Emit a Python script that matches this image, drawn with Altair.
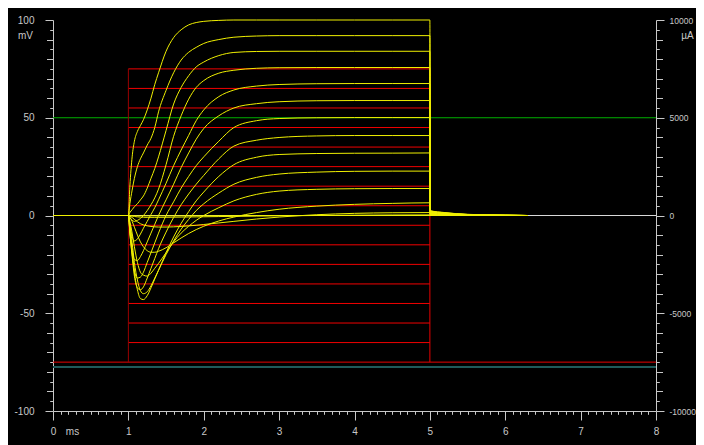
import altair as alt
import pandas as pd

# ---- time base of the current traces (ms) ----
TIMES = [0, 1.0, 1.02, 1.05, 1.08, 1.12, 1.16, 1.2, 1.25, 1.3, 1.35, 1.4, 1.5, 1.6,
         1.7, 1.8, 1.9, 2.0, 2.2, 2.4, 2.7, 3.0, 3.5, 4.0, 4.5, 5.0]
TAIL_TIMES = [5.005, 5.2, 5.5, 6.0, 6.3]

# ---- voltage protocol (mV) ----
STEP_LEVELS = [75, 65, 55, 45, 35, 25, 15, 5, -5, -15, -25, -35, -45, -55, -65]
STEP_START = 1.0
STEP_END = 5.0
HOLDING = -75
E_NA = 50
E_K = -77.5

# ---- membrane currents (uA), one list per step level ----
I_P75 = [0, 0, 1500, 3000, 3800, 4300, 4600, 4900, 5400, 6000, 6700, 7300, 8400, 9100,
         9500, 9750, 9870, 9930, 9980, 10000, 10000, 10000, 10000, 10000, 10000, 10000]
I_P65 = [0, 0, 600, 1300, 1900, 2500, 2900, 3200, 3600, 3950, 4500, 5300, 6400, 7300,
         7950, 8350, 8600, 8800, 9000, 9120, 9180, 9200, 9200, 9200, 9200, 9200]
I_P55 = [0, 0, 150, 300, 450, 600, 800, 1000, 1400, 1900, 2400, 3000, 4350, 5700,
         6550, 7150, 7600, 7850, 8180, 8340, 8390, 8400, 8400, 8400, 8400, 8400]
I_P45 = [0, 0, -100, -250, -300, -250, -150, 0, 250, 550, 900, 1350, 2600, 4050,
         5100, 5950, 6550, 6900, 7280, 7430, 7530, 7560, 7570, 7570, 7570, 7570]
I_P35 = [0, 0, -500, -1100, -1300, -1200, -950, -650, -300, 50, 400, 800, 1650, 2550,
         3350, 4100, 4850, 5400, 6080, 6420, 6620, 6700, 6740, 6750, 6750, 6750]
I_P25 = [0, 0, -800, -1700, -2250, -2300, -2100, -1800, -1350, -900, -450, 0, 800, 1600,
         2450, 3200, 3900, 4450, 5100, 5500, 5720, 5820, 5870, 5880, 5880, 5880]
I_P15 = [0, 0, -900, -2000, -2800, -3200, -3150, -2900, -2400, -1900, -1400, -900, 0, 700,
         1400, 2000, 2550, 3000, 3800, 4500, 4850, 4960, 5000, 5010, 5010, 5010]
I_P5 = [0, 0, -900, -2100, -3100, -3700, -3800, -3650, -3200, -2700, -2200, -1700, -850, -100,
        550, 1100, 1600, 2050, 2900, 3550, 3850, 3990, 4070, 4090, 4090, 4090]
I_M5 = [0, 0, -700, -1800, -2900, -3800, -4250, -4300, -4100, -3700, -3250, -2800, -1900, -1100,
        -400, 200, 750, 1200, 2000, 2600, 2980, 3120, 3170, 3185, 3190, 3200]
I_M15 = [0, 0, -500, -1400, -2400, -3300, -3850, -4000, -3900, -3600, -3200, -2800, -2000, -1300,
         -700, -200, 250, 600, 1150, 1600, 1950, 2120, 2220, 2260, 2270, 2270]
I_M25 = [0, 0, -300, -900, -1600, -2400, -2900, -3050, -3100, -2950, -2700, -2450, -1900, -1350,
         -900, -550, -250, 0, 400, 750, 1080, 1250, 1340, 1370, 1380, 1380]
I_M35 = [0, 0, -100, -300, -600, -1000, -1350, -1600, -1800, -1880, -1880, -1830, -1650, -1400,
         -1150, -920, -720, -550, -280, -80, 150, 320, 480, 570, 620, 650]
I_M45 = [0, 0, -30, -100, -200, -320, -420, -480, -530, -560, -580, -590, -590, -580,
         -560, -530, -500, -460, -380, -300, -180, -80, 40, 110, 140, 150]
I_M55 = [0, 0, -10, -30, -50, -70, -80, -90, -95, -95, -95, -95, -90, -85,
         -80, -75, -70, -65, -55, -45, -30, -15, 0, 15, 25, 30]
I_M65 = [0, 0, 0, -5, -10, -15, -15, -15, -15, -15, -15, -15, -15, -15,
         -12, -10, -10, -10, -8, -6, -4, -2, 0, 2, 3, 4]

# tail currents after repolarisation (uA)
T_P75 = [250, 150, 60, 15, 0]
T_P65 = [230, 140, 55, 15, 0]
T_P55 = [210, 125, 50, 12, 0]
T_P45 = [190, 115, 45, 10, 0]
T_P35 = [170, 100, 40, 10, 0]
T_P25 = [150, 90, 35, 8, 0]
T_P15 = [125, 75, 30, 7, 0]
T_P5 = [100, 60, 25, 6, 0]
T_M5 = [80, 48, 20, 5, 0]
T_M15 = [55, 33, 14, 4, 0]
T_M25 = [35, 20, 8, 2, 0]
T_M35 = [15, 9, 4, 1, 0]
T_M45 = [5, 3, 1, 0, 0]
T_M55 = [0, 0, 0, 0, 0]
T_M65 = [0, 0, 0, 0, 0]

BODIES = [I_P75, I_P65, I_P55, I_P45, I_P35, I_P25, I_P15, I_P5,
          I_M5, I_M15, I_M25, I_M35, I_M45, I_M55, I_M65]
TAILS = [T_P75, T_P65, T_P55, T_P45, T_P35, T_P25, T_P15, T_P5,
         T_M5, T_M15, T_M25, T_M35, T_M45, T_M55, T_M65]

rows = []
for lvl, body, tail in zip(STEP_LEVELS, BODIES, TAILS):
    for t, i in zip(TIMES + TAIL_TIMES, body + tail):
        rows.append({"curve": str(lvl), "t": t, "I": i})
traces_df = pd.DataFrame(rows)

steps_df = pd.DataFrame({"v": STEP_LEVELS, "t0": STEP_START, "t1": STEP_END})
vert1_df = pd.DataFrame({"t": [STEP_START], "lo": [HOLDING], "hi": [max(STEP_LEVELS)]})
vert2_df = pd.DataFrame({"t": [STEP_END], "lo": [HOLDING], "hi": [max(STEP_LEVELS)]})
hold_df = pd.DataFrame({"v": [HOLDING]})
ena_df = pd.DataFrame({"v": [E_NA]})
ek_df = pd.DataFrame({"v": [E_K]})
zero_df = pd.DataFrame({"v": [0]})

FG = "#c8c8c8"
FONT = "Liberation Sans"

x_axis = alt.Axis(
    values=[round(i * 0.1, 1) for i in range(81)],
    tickSize={"condition": {"test": "datum.value % 1 === 0", "value": 9}, "value": 3.3},
    labelExpr="datum.value % 1 === 0 ? toString(datum.value) : ''",
    labelColor=FG, labelFont=FONT, labelFontSize=10, labelPadding=6,
    labelOverlap=False, labelFlush=False,
    domainColor=FG, tickColor=FG, grid=False,
    title="ms", titleX=19, titleY=20, titleColor=FG, titleFont=FONT, titleFontSize=10,
    titleFontWeight="normal", titleAlign="center", titleBaseline="middle",
)
y_left = alt.Axis(
    values=list(range(-100, 101, 5)),
    tickSize={"condition": [{"test": "datum.value % 50 === 0", "value": 8},
                            {"test": "datum.value % 10 === 0", "value": 6.5}], "value": 3.3},
    labelExpr="datum.value % 50 === 0 ? toString(datum.value) : ''",
    labelColor=FG, labelFont=FONT, labelFontSize=10, labelPadding=11,
    labelOverlap=False, labelFlush=False,
    domainColor=FG, tickColor=FG, grid=False,
    title="mV", titleAngle=0, titleX=-28, titleY=15, titleColor=FG, titleFont=FONT,
    titleFontSize=10, titleFontWeight="normal", titleAlign="center", titleBaseline="middle",
)
y_right = alt.Axis(
    orient="right",
    values=list(range(-10000, 10001, 500)),
    tickSize={"condition": [{"test": "datum.value % 5000 === 0", "value": 8},
                            {"test": "datum.value % 1000 === 0", "value": 6.5}], "value": 3.3},
    labelExpr="datum.value % 5000 === 0 ? toString(datum.value) : ''",
    labelColor=FG, labelFont=FONT, labelFontSize=8.5, labelPadding=5,
    labelOverlap=False, labelFlush=False,
    domainColor=FG, tickColor=FG, grid=False,
    title="µA", titleAngle=0, titleX=31, titleY=15, titleColor=FG, titleFont=FONT,
    titleFontSize=10, titleFontWeight="normal", titleAlign="center", titleBaseline="middle",
)

xs = alt.Scale(domain=[0, 8], nice=False, zero=False)
ys = alt.Scale(domain=[-100, 100], nice=False)
X = lambda f: alt.X(f, type="quantitative", scale=xs, axis=x_axis)
Y = lambda f: alt.Y(f, type="quantitative", scale=ys, axis=y_left)

ena = alt.Chart(ena_df).mark_rule(color="#00b000", strokeWidth=1).encode(y=Y("v"))
ek = alt.Chart(ek_df).mark_rule(color="#1f5a5a", strokeWidth=2).encode(y=Y("v"))
hold = alt.Chart(hold_df).mark_rule(color="#e80000", strokeWidth=1).encode(y=Y("v"))
steps = alt.Chart(steps_df).mark_rule(color="#f00000", strokeWidth=1).encode(
    x=X("t0"), x2="t1", y=Y("v"))
v1 = alt.Chart(vert1_df).mark_rule(color="#990000", strokeWidth=1).encode(
    x=X("t"), y=Y("lo"), y2="hi")
v2 = alt.Chart(vert2_df).mark_rule(color="#e80000", strokeWidth=1).encode(
    x=X("t"), y=Y("lo"), y2="hi")
zero = alt.Chart(zero_df).mark_rule(color="#d8d8d8", strokeWidth=1).encode(y=Y("v"))

mv_group = alt.layer(ena, ek, hold, steps, v1, v2, zero)

traces = alt.Chart(traces_df).mark_line(
    color="#f0f000", strokeWidth=1, interpolate="monotone"
).encode(
    x=X("t"),
    y=alt.Y("I:Q", scale=alt.Scale(domain=[-10000, 10000], nice=False), axis=y_right),
    detail="curve:N",
    order="t:Q",
)

chart = alt.layer(mv_group, traces).resolve_scale(y="independent").properties(
    width=603, height=391, background="black",
    padding={"left": 45, "top": 12, "right": 40, "bottom": 34},
    autosize=alt.AutoSizeParams(type="none"),
).configure_view(stroke=None)

chart.save("out.html", embed_options={"renderer": "svg", "actions": False})
